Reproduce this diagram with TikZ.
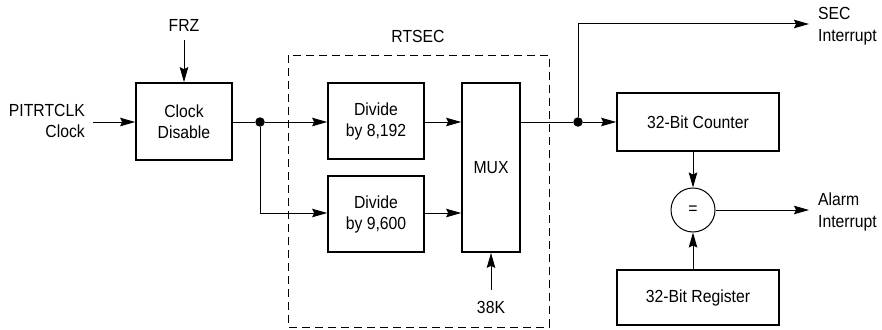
\documentclass[tikz,border=0pt]{standalone}
\usepackage{fontspec}
\setmainfont{Liberation Sans}[FakeStretch=0.9]
\usetikzlibrary{arrows.meta}
\begin{document}
\begin{tikzpicture}[x=1pt,y=-1pt,
  lbl/.style={font=\fontsize{17.5}{21.5}\selectfont, inner sep=0pt, align=center},
  blk/.style={draw, line width=1.7pt, inner sep=0pt, align=center, font=\fontsize{17.5}{21}\selectfont},
  conn/.style={line width=1pt},
  arr/.style={conn, -{Stealth[length=15pt,width=8.5pt,inset=2pt]}},
  dot/.style={circle, fill, inner sep=0pt, minimum size=9.5pt}]
\useasboundingbox (0,0) rectangle (882,329);
% dashed RTSEC frame
\draw[line width=1pt, dash pattern=on 8pt off 5pt] (288,55) rectangle (549,327);
\node[lbl] (rtsec) at (418,36) {RTSEC};
% blocks
\node[blk, minimum width=96pt, minimum height=77pt] (cd) at (184,121.5) {Clock\\Disable};
\node[blk, minimum width=96pt, minimum height=76pt] (d1) at (376,121) {Divide\\by 8,192};
\node[blk, minimum width=96pt, minimum height=76pt] (d2) at (376,214) {Divide\\by 9,600};
\node[blk, minimum width=58pt, minimum height=169pt] (mux) at (491,167.5) {MUX};
\node[blk, minimum width=162pt, minimum height=58pt] (cnt) at (698,122) {32-Bit Counter};
\node[blk, minimum width=162pt, minimum height=55pt] (reg) at (698,297.5) {32-Bit Register};
\node[draw, circle, line width=1pt, minimum size=44pt, inner sep=0pt, font=\fontsize{17.5}{21}\selectfont] (eq) at (693,210) {=};
% labels
\node[lbl] (frz) at (184,25) {FRZ};
\node[lbl, anchor=east, align=right] (pit) at (85,121) {PITRTCLK\\Clock};
\node[lbl] (k38) at (491,307) {38K};
\node[lbl, anchor=west, align=left] (sec) at (818,26) {SEC\\Interrupt};
\node[lbl, anchor=west, align=left] (alarm) at (818,212) {Alarm\\Interrupt};
% junctions and corners
\node[dot] (j1) at (260,122) {};
\node[dot] (j2) at (578,122) {};
\coordinate (pin) at (93,122);
\coordinate (frzs) at (184,40);
\coordinate (k38n) at (491,290);
\coordinate (j1d) at (260,213);
\coordinate (j2u) at (578,24);
\coordinate (secend) at (809,24);
\coordinate (alend) at (809,210);
% connectors
\draw[arr] (frzs) -- (cd.north);
\draw[arr] (pin) -- (pin -| cd.west);
\draw[conn] (j1 -| cd.east) -- (j1);
\draw[arr] (j1) -- (j1 -| d1.west);
\draw[arr] (j1) -- (j1d) -- (j1d -| d2.west);
\draw[arr] (j1 -| d1.east) -- (j1 -| mux.west);
\draw[arr] (j1d -| d2.east) -- (j1d -| mux.west);
\draw[arr] (k38n) -- (k38n |- mux.south);
\draw[conn] (j2 -| mux.east) -- (j2);
\draw[arr] (j2) -- (j2 -| cnt.west);
\draw[arr] (j2) -- (j2u) -- (secend);
\draw[arr] (eq.north |- cnt.south) -- (eq.north);
\draw[arr] (eq.south |- reg.north) -- (eq.south);
\draw[arr] (eq.east) -- (alend);
\end{tikzpicture}
\end{document}
